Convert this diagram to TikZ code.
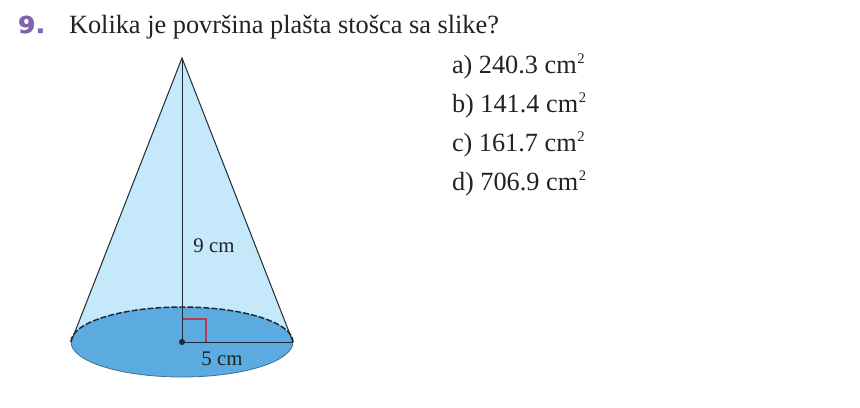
\documentclass[tikz,border=0pt]{standalone}
\usepackage{fontspec}
\setmainfont{Liberation Serif}
\newfontfamily\numfont[FakeStretch=1.08,FakeBold=1.2]{DejaVu Sans Bold}
\definecolor{conelight}{HTML}{C5E8FA}
\definecolor{conebase}{HTML}{5BAAE0}
\definecolor{inkline}{HTML}{1F2A30}
\definecolor{numpurple}{HTML}{7F63AE}
\definecolor{anglered}{HTML}{B83A5A}
\definecolor{textink}{HTML}{222222}
\tikzset{
  txt/.style={anchor=base west,inner sep=0pt,outer sep=0pt,text=textink},
  title/.style={txt,font=\fontsize{19.75pt}{22pt}\selectfont},
  answer/.style={txt,font=\fontsize{19.7pt}{22pt}\selectfont},
  small/.style={anchor=base,inner sep=0pt,outer sep=0pt,text=textink,font=\fontsize{15.6pt}{17pt}\selectfont},
  edge/.style={draw=inkline,line width=0.75pt}
}
\newcommand{\sqcm}{cm\kern0.5pt\raisebox{7.5pt}{\fontsize{11pt}{11pt}\selectfont 2}}
\begin{document}
\begin{tikzpicture}[x=0.75pt,y=-0.75pt]
\useasboundingbox (0,0) rectangle (860,407);
\fill[white] (0,0) rectangle (860,407);
\coordinate (apex) at (182,58);
\coordinate (ctr) at (182,342);
\coordinate (lft) at (71,342);
\coordinate (rgt) at (293,342);
\coordinate (angx) at (206,342);
\coordinate (angy) at (182,319);
\coordinate (angc) at (206,319);
% cone body
\fill[conelight] (apex) -- (lft) -- (rgt) -- cycle;
% base
\fill[conebase] (ctr) ellipse[x radius=111,y radius=35];
\draw[draw=inkline!45!conebase,line width=0.6pt] (lft) arc[start angle=180,end angle=0,x radius=111,y radius=35];
\draw[edge,dash pattern=on 4.5pt off 1.5pt,line width=1.1pt] (lft) arc[start angle=180,end angle=360,x radius=111,y radius=35];
% sides and height
\draw[edge] (lft) -- (apex) -- (rgt);
\draw[anglered,line width=0.8pt] (angy) -- (angc) -- (angx);
\draw[edge] (apex) -- (ctr) -- (rgt);
\fill[inkline] (ctr) circle[radius=3];
% text
\node[txt,text=numpurple,font=\numfont\fontsize{17.5pt}{20pt}\selectfont] (num) at (18,33) {9.};
\node[title] (q) at (69,33) {Kolika je površina plašta stošca sa slike?};
\node[answer] (a) at (452,73) {a) 240.3 \sqcm};
\node[answer] (b) at (452,112) {b) 141.4 \sqcm};
\node[answer] (c) at (452,151) {c) 161.7 \sqcm};
\node[answer] (d) at (452,190) {d) 706.9 \sqcm};
\node[small] (h) at (214,252) {9 cm};
\node[small] (r) at (222,365) {5 cm};
\end{tikzpicture}
\end{document}
